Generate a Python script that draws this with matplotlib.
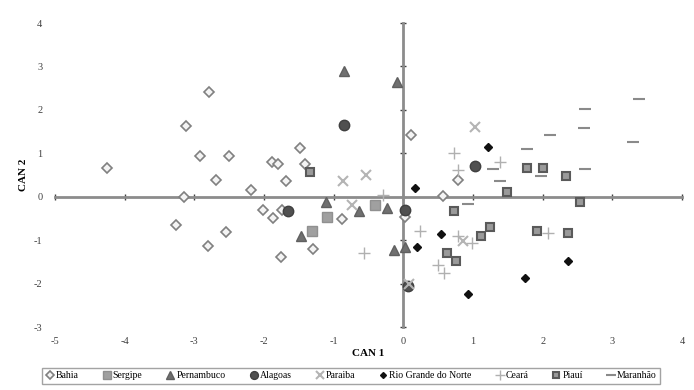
import matplotlib.pyplot as plt
import numpy as np

plt.rcParams['font.family'] = ['Liberation Serif', 'DejaVu Serif']
plt.rcParams['axes.unicode_minus'] = False

# canonical scores
bahia_x = [-4.25, -3.12, -2.79, -2.92, -2.69, -2.50, -3.15, -3.26, -2.80, -2.54, -2.18, -1.88, -1.80,
           -1.68, -2.01, -1.87, -1.74, -1.75, -1.49, -1.41, 0.11, 0.78, 0.57, -0.88, -1.29, 0.03]
bahia_y = [0.67, 1.63, 2.41, 0.94, 0.39, 0.94, 0.0, -0.64, -1.13, -0.82, 0.16, 0.80, 0.76,
           0.37, -0.30, -0.48, -0.30, -1.38, 1.13, 0.76, 1.43, 0.39, 0.02, -0.51, -1.20, -0.46]
sergipe_x = [-1.09, -1.31, -0.40]
sergipe_y = [-0.46, -0.78, -0.18]
pern_x = [-0.85, -0.09, -1.11, -0.63, -0.23, -1.47, -0.13, 0.03]
pern_y = [2.90, 2.65, -0.12, -0.32, -0.25, -0.90, -1.22, -1.15]
alagoas_x = [-0.85, 1.03, -1.65, 0.03, 0.06]
alagoas_y = [1.66, 0.71, -0.34, -0.30, -2.05]
paraiba_x = [-0.86, -0.53, 1.03, -0.73, 0.85, 0.08]
paraiba_y = [0.37, 0.51, 1.61, -0.20, -1.03, -2.02]
rgn_x = [0.16, 1.22, 0.54, 0.20, 2.36, 1.75, 0.93]
rgn_y = [0.21, 1.15, -0.85, -1.15, -1.47, -1.86, -2.25]
ceara_x = [0.73, 1.39, 0.79, 0.24, 0.78, -0.56, 0.50, 0.59, 2.07, 0.98, -0.29]
ceara_y = [1.01, 0.80, 0.62, -0.80, -0.90, -1.29, -1.58, -1.75, -0.83, -1.06, 0.04]
piaui_x = [1.78, 2.00, 2.33, 1.48, 2.53, 0.73, 1.24, 1.11, 1.91, 2.36, 0.62, 0.75, -1.34]
piaui_y = [0.67, 0.67, 0.48, 0.12, -0.11, -0.32, -0.69, -0.90, -0.80, -0.83, -1.29, -1.49, 0.57]
maranhao_x = [3.38, 2.60, 2.59, 2.10, 3.29, 1.77, 1.29, 2.60, 1.98, 1.38, 0.93]
maranhao_y = [2.25, 2.02, 1.59, 1.42, 1.26, 1.10, 0.64, 0.64, 0.48, 0.37, -0.16]

x_ticks = [-5, -4, -3, -2, -1, 0, 1, 2, 3, 4]
y_ticks = [-3, -2, -1, 0, 1, 2, 3, 4]

fig = plt.figure(figsize=(6.94, 3.90), dpi=100)
rect = [0.079, 0.1615, 0.904, 0.7795]

# bottom axes: only tick labels at the edges
ax = fig.add_axes(rect)
ax.set_xlim(-5, 4)
ax.set_ylim(-3, 4)
ax.set_xticks(x_ticks)
ax.set_yticks(y_ticks)
for s in ax.spines.values():
    s.set_visible(False)
ax.tick_params(length=0, labelsize=7.5, labelcolor='#404040')
ax.tick_params(axis='y', pad=9)
ax.tick_params(axis='x', pad=7)
ax.set_xlabel('CAN 1', fontsize=8, fontweight='bold', labelpad=2)
ax.set_ylabel('CAN 2', fontsize=8, fontweight='bold', labelpad=4)

# top axes: axis lines through the origin, and the points
ax2 = fig.add_axes(rect, sharex=ax, sharey=ax)
ax2.patch.set_visible(False)
ax2.spines['top'].set_visible(False)
ax2.spines['right'].set_visible(False)
for side in ['left', 'bottom']:
    ax2.spines[side].set_position(('data', 0))
    ax2.spines[side].set_color('#8c8c8c')
    ax2.spines[side].set_linewidth(2)
ax2.tick_params(labelbottom=False, labelleft=False, direction='inout', length=4,
                width=1, color='#404040')

ax2.plot(bahia_x, bahia_y, 'D', ms=5.5, mfc='#f4f4f4', mec='#808080', mew=1.2, zorder=3, label='Bahia')
ax2.plot(sergipe_x, sergipe_y, 's', ms=7, mfc='#a0a0a0', mec='#909090', zorder=3, label='Sergipe')
ax2.plot(pern_x, pern_y, '^', ms=7.5, mfc='#707070', mec='#606060', zorder=3, label='Pernambuco')
ax2.plot(alagoas_x, alagoas_y, 'o', ms=7.5, mfc='#505050', mec='#404040', zorder=3, label='Alagoas')
ax2.plot(paraiba_x, paraiba_y, 'x', ms=7, mec='#b4b4b4', mew=1.5, zorder=3, label='Paraiba')
ax2.plot(rgn_x, rgn_y, 'D', ms=4, mfc='#111111', mec='#111111', zorder=3, label='Rio Grande do Norte')
ax2.plot(ceara_x, ceara_y, '+', ms=9, mec='#b0b0b0', mew=1, zorder=3, label='Ceará')
ax2.plot(piaui_x, piaui_y, 's', ms=6, mfc='#9a9a9a', mec='#5a5a5a', mew=1.5, zorder=3, label='Piauí')
ax2.plot(maranhao_x, maranhao_y, '_', ms=9, mec='#8a8a8a', mew=1.5, zorder=3, label='Maranhão')

leg = fig.legend(loc='center', bbox_to_anchor=(0.506, 0.036), ncol=9, fontsize=7,
                 frameon=True, fancybox=False, edgecolor='#8c8c8c', handlelength=0.8,
                 handletextpad=0.2, columnspacing=2.5, borderpad=0.4, markerscale=0.75)
leg.get_frame().set_linewidth(1)

fig.savefig('out.png', dpi=100)
